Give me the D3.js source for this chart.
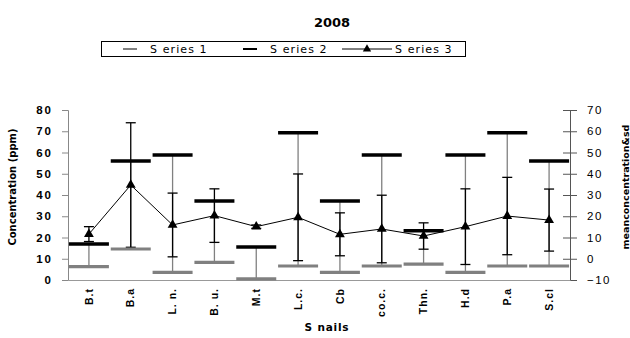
<!DOCTYPE html>
<html>
<head>
<meta charset="utf-8">
<style>
body { margin: 0; background: #fff; }
svg { display: block; font-family: "DejaVu Sans", sans-serif; }
.axis text { fill: #000; }
</style>
<script src="https://d3js.org/d3.v7.min.js"></script>
</head>
<body>
<script>
// snails, 2008
var snails = ["B.t", "B.a", "L. n.", "B. u.", "M.t", "L.c.", "Cb", "co.c.", "Thn.", "H.d", "P.a", "S.cl"];
var series1 = [6.3, 14.6, 3.6, 8.3, 0.5, 6.6, 3.6, 6.6, 7.5, 3.6, 6.6, 6.6];
var series2 = [17, 56, 58.8, 37.2, 15.5, 69.3, 37.2, 58.8, 23.2, 58.8, 69.3, 56];
// series 3 = mean on the right axis, with sd
var series3 = [11.6, 34.7, 15.9, 20.3, 15.1, 19.5, 11.5, 14.0, 10.7, 15.1, 20.1, 18.2];
var sd = [3.5, 29.3, 15.0, 12.6, 0.8, 20.4, 10.1, 15.9, 6.2, 17.8, 18.2, 14.6];
var leftTicks = [0, 10, 20, 30, 40, 50, 60, 70, 80];
var rightTicks = [-10, 0, 10, 20, 30, 40, 50, 60, 70];

var W = 630, H = 338;
var svg = d3.select("body").append("svg").attr("width", W).attr("height", H);

var x = d3.scaleBand().domain(snails).range([68, 570]);
var yL = d3.scaleLinear().domain([0, 80]).range([280, 110]);
var yR = d3.scaleLinear().domain([-10, 70]).range([280, 110]);

// title
svg.append("text").attr("x", 332).attr("y", 27).attr("text-anchor", "middle")
  .style("font-size", "13px").style("font-weight", "bold").text("2008");

// legend
var lg = svg.append("g");
lg.append("rect").attr("x", 101.5).attr("y", 41.5).attr("width", 364).attr("height", 15)
  .attr("fill", "none").attr("stroke", "#000");
lg.append("line").attr("x1", 123).attr("x2", 137).attr("y1", 49).attr("y2", 49)
  .attr("stroke", "#808080").attr("stroke-width", 2);
lg.append("line").attr("x1", 243).attr("x2", 257).attr("y1", 49).attr("y2", 49)
  .attr("stroke", "#000").attr("stroke-width", 2);
lg.append("line").attr("x1", 342).attr("x2", 392).attr("y1", 49).attr("y2", 49)
  .attr("stroke", "#000").attr("stroke-width", 1);
lg.append("path").attr("d", d3.symbol(d3.symbolTriangle, 30)())
  .attr("transform", "translate(367,49)").attr("fill", "#000");
[["S eries 1", 150], ["S eries 2", 270], ["S eries 3", 395]].forEach(function(t) {
  lg.append("text").attr("x", t[1]).attr("y", 53).style("font-size", "11px")
    .style("letter-spacing", "1.1px").text(t[0]);
});

// axes
var axL = svg.append("g").attr("class", "axis").attr("transform", "translate(68,0)")
  .call(d3.axisLeft(yL).tickValues(leftTicks).tickSize(6).tickPadding(9));
axL.selectAll("text").style("font-size", "11.5px").style("font-weight", "bold").style("letter-spacing", "2px");
axL.selectAll("line, path").attr("stroke", "#888");

var axR = svg.append("g").attr("class", "axis").attr("transform", "translate(570,0)")
  .call(d3.axisRight(yR).tickValues(rightTicks).tickSize(7).tickPadding(10).tickFormat(d3.format("d")));
axR.selectAll(".tick line").attr("x1", -7);
axR.selectAll("line, path").attr("stroke", "#555");
axR.selectAll("text").style("font-size", "11.5px").style("letter-spacing", "1.5px");

var axB = svg.append("g").attr("class", "axis").attr("transform", "translate(0,280)")
  .call(d3.axisBottom(x).tickSize(0).tickPadding(0));
axB.select("path").attr("stroke", "#999");
axB.selectAll("text")
  .attr("transform", "rotate(-90)").attr("text-anchor", "end")
  .attr("x", -8).attr("y", 0).attr("dy", "0.35em")
  .style("font-size", "10.5px").style("font-weight", "bold").style("letter-spacing", "1px");

// axis titles
svg.append("text").attr("transform", "translate(16,187) rotate(-90)").attr("text-anchor", "middle")
  .style("font-size", "10px").style("font-weight", "bold").text("Concentration (ppm)");
svg.append("text").attr("transform", "translate(629,187) rotate(-90)").attr("text-anchor", "middle")
  .style("font-size", "9.5px").style("font-weight", "bold").text("meanconcentration&sd");
svg.append("text").attr("x", 327).attr("y", 331).attr("text-anchor", "middle")
  .style("font-size", "10.5px").style("font-weight", "bold").style("letter-spacing", "0.8px").text("S nails");

var cx = function(i) { return x(snails[i]) + x.bandwidth() / 2; };
var idx = d3.range(snails.length);

// high-low lines
svg.append("g").selectAll("line").data(idx).join("line")
  .attr("x1", cx).attr("x2", cx)
  .attr("y1", function(i) { return yL(series1[i]); })
  .attr("y2", function(i) { return yL(series2[i]); })
  .attr("stroke", "#808080").attr("stroke-width", 1.3);

// error bars
var eb = svg.append("g").attr("stroke", "#000").attr("stroke-width", 1.3);
eb.selectAll("line.v").data(idx).join("line").attr("class", "v")
  .attr("x1", cx).attr("x2", cx)
  .attr("y1", function(i) { return yR(series3[i] - sd[i]); })
  .attr("y2", function(i) { return yR(series3[i] + sd[i]); });
eb.selectAll("line.t").data(idx).join("line").attr("class", "t")
  .attr("x1", function(i) { return cx(i) - 5; }).attr("x2", function(i) { return cx(i) + 5; })
  .attr("y1", function(i) { return yR(series3[i] + sd[i]); })
  .attr("y2", function(i) { return yR(series3[i] + sd[i]); });
eb.selectAll("line.b").data(idx).join("line").attr("class", "b")
  .attr("x1", function(i) { return cx(i) - 5; }).attr("x2", function(i) { return cx(i) + 5; })
  .attr("y1", function(i) { return yR(series3[i] - sd[i]); })
  .attr("y2", function(i) { return yR(series3[i] - sd[i]); });

// series 1 and 2 dash markers
svg.append("g").selectAll("line").data(idx).join("line")
  .attr("x1", function(i) { return cx(i) - 20; }).attr("x2", function(i) { return cx(i) + 20; })
  .attr("y1", function(i) { return yL(series1[i]); })
  .attr("y2", function(i) { return yL(series1[i]); })
  .attr("stroke", "#808080").attr("stroke-width", 3.2);
svg.append("g").selectAll("line").data(idx).join("line")
  .attr("x1", function(i) { return cx(i) - 20; }).attr("x2", function(i) { return cx(i) + 20; })
  .attr("y1", function(i) { return yL(series2[i]); })
  .attr("y2", function(i) { return yL(series2[i]); })
  .attr("stroke", "#000").attr("stroke-width", 3.5);

// series 3 line with triangles
svg.append("path").datum(idx)
  .attr("d", d3.line().x(cx).y(function(i) { return yR(series3[i]); }))
  .attr("fill", "none").attr("stroke", "#000").attr("stroke-width", 1);
svg.append("g").selectAll("path").data(idx).join("path")
  .attr("d", d3.symbol(d3.symbolTriangle, 42)())
  .attr("transform", function(i) { return "translate(" + cx(i) + "," + yR(series3[i]) + ")"; })
  .attr("fill", "#000");
</script>
</body>
</html>
